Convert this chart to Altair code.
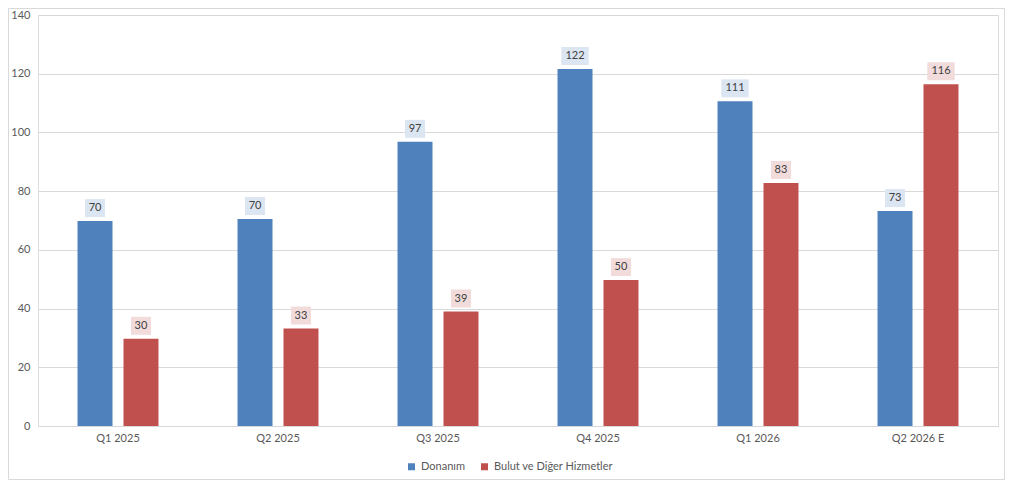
import altair as alt
import pandas as pd

quarters = ["Q1 2025", "Q2 2025", "Q3 2025", "Q4 2025", "Q1 2026", "Q2 2026 E"]
series_names = ["Donanım", "Bulut ve Diğer Hizmetler"]
donanim = [69.8, 70.5, 96.8, 121.6, 110.6, 73.2]
bulut = [29.7, 33.2, 39.0, 49.7, 82.8, 116.4]
y_ticks = [0, 20, 40, 60, 80, 100, 120, 140]

rows = []
for q, d, b in zip(quarters, donanim, bulut):
    rows.append({"q": q, "series": series_names[0], "v": d, "label": str(round(d))})
    rows.append({"q": q, "series": series_names[1], "v": b, "label": str(round(b))})
df = pd.DataFrame(rows)

FONT = "Lato"
TXT = "#595959"
GRID = "#d9d9d9"
BLUE = "#4f81bd"
RED = "#c0504d"

x_enc = alt.X("q:N", sort=quarters, title=None,
              scale=alt.Scale(paddingInner=0.494, paddingOuter=0.247),
              axis=alt.Axis(labelAngle=0, ticks=False, domain=True, domainColor=GRID,
                            labelFont=FONT, labelFontSize=11, labelColor=TXT,
                            labelPadding=6, grid=False))
xo_enc = alt.XOffset("series:N", sort=series_names,
                     scale=alt.Scale(paddingInner=0.239, paddingOuter=0))
y_enc = alt.Y("v:Q", title=None,
              scale=alt.Scale(domain=[0, 140], nice=False, zero=True),
              axis=alt.Axis(values=y_ticks, ticks=False, domain=False, grid=True,
                            gridColor=GRID, labelFont=FONT, labelFontSize=11,
                            labelColor=TXT, labelPadding=8))

base = alt.Chart(df)

bars = base.mark_bar().encode(
    x=x_enc, xOffset=xo_enc, y=y_enc,
    color=alt.Color("series:N", sort=series_names,
                    scale=alt.Scale(domain=series_names, range=[BLUE, RED]),
                    legend=alt.Legend(title=None, orient="none", direction="horizontal",
                                      legendX=368, legendY=446,
                                      symbolType="square", symbolSize=49,
                                      symbolStrokeWidth=0,
                                      labelFont=FONT, labelFontSize=11, labelColor=TXT,
                                      columnPadding=14, labelOffset=4)),
)

path2 = "M-1.12,-1L1.12,-1L1.12,1L-1.12,1Z"
path3 = "M-1.52,-1L1.52,-1L1.52,1L-1.52,1Z"

boxes = base.mark_point(filled=True, size=324, opacity=1, strokeWidth=0, yOffset=-13).encode(
    x=alt.X("q:N", sort=quarters), xOffset=alt.XOffset("series:N", sort=series_names),
    y=alt.Y("v:Q"),
    shape=alt.condition("length(datum.label) > 2", alt.value(path3), alt.value(path2)),
    fill=alt.condition(f"datum.series == '{series_names[0]}'", alt.value("#dce6f2"), alt.value("#f2dcdb")),
)

labels = base.mark_text(font=FONT, fontSize=11, color="#404040", yOffset=-13, baseline="middle").encode(
    x=alt.X("q:N", sort=quarters), xOffset=alt.XOffset("series:N", sort=series_names),
    y=alt.Y("v:Q"),
    text="label:N",
)

border = alt.Chart(pd.DataFrame({"a": [0]})).mark_rect(
    fill=None, stroke=GRID, strokeWidth=1, clip=False
).encode(x=alt.value(-29.5), x2=alt.value(966.5), y=alt.value(-6.5), y2=alt.value(464.5))

chart = alt.layer(bars, boxes, labels, border).properties(
    width=960, height=411,
    autosize=alt.AutoSizeParams(type="none"),
    padding={"left": 30, "top": 7, "right": 7, "bottom": 54},
).configure_view(stroke=None).configure(background="white")

chart.save("out.html", embed_options={"renderer": "svg", "actions": False})
